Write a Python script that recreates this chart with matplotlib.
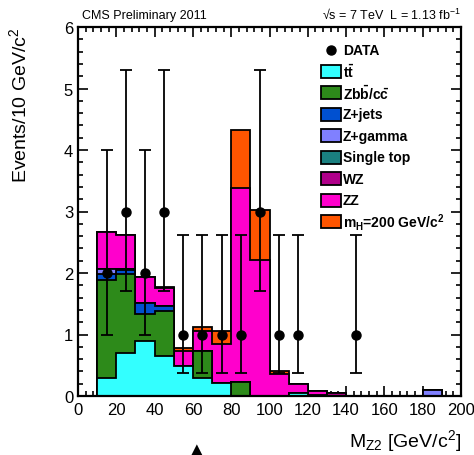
import matplotlib
matplotlib.use("Agg")
import matplotlib.pyplot as plt
import numpy as np
from matplotlib.patches import Rectangle

plt.rcParams['font.family'] = ['Liberation Sans', 'DejaVu Sans']
plt.rcParams['mathtext.fontset'] = 'custom'
plt.rcParams['mathtext.rm'] = 'Liberation Sans'
plt.rcParams['mathtext.it'] = 'Liberation Sans:italic'
plt.rcParams['mathtext.bf'] = 'Liberation Sans:bold'

# 10 GeV bins, 0-200
edges = np.arange(0, 201, 10)

ttbar    = [0, 0.29, 0.70, 0.89, 0.65, 0.48, 0.29, 0.21, 0, 0, 0, 0.05, 0, 0, 0, 0, 0, 0, 0, 0]
zbb      = [0, 1.59, 1.28, 0.44, 0.73, 0, 0.44, 0, 0.22, 0, 0, 0, 0, 0, 0, 0, 0, 0, 0, 0]
zjets    = [0, 0.11, 0.07, 0.19, 0.09, 0, 0, 0, 0, 0, 0, 0, 0, 0, 0, 0, 0, 0, 0, 0]
zgamma   = [0, 0.07, 0.01, 0, 0, 0, 0, 0, 0, 0, 0, 0, 0, 0, 0, 0, 0, 0, 0.09, 0]
singletop = [0, 0, 0, 0, 0, 0, 0, 0, 0, 0, 0, 0, 0, 0, 0, 0, 0, 0, 0, 0]
wz       = [0, 0, 0, 0, 0, 0, 0, 0, 0, 0, 0, 0, 0.02, 0.05, 0, 0, 0, 0, 0, 0]
zz       = [0, 0.60, 0.56, 0.41, 0.28, 0.25, 0.32, 0.63, 3.16, 2.21, 0.36, 0.15, 0.06, 0, 0, 0, 0, 0, 0, 0]
higgs    = [0, 0, 0, 0, 0.02, 0.05, 0.07, 0.21, 0.95, 0.81, 0.05, 0, 0, 0, 0, 0, 0, 0, 0, 0]

layers = [ttbar, zbb, zjets, zgamma, singletop, wz, zz, higgs]
labels = [r'$\mathbf{t\bar{t}}$', r'$\mathbf{Zb\bar{b}/c\bar{c}}$', 'Z+jets', 'Z+gamma',
          'Single top', 'WZ', 'ZZ', r'$\mathbf{m_H}$=200 GeV/c$^\mathbf{2}$']
colors = ['#33ffff', '#2d8a1a', '#0050d0', '#8080ff', '#1a8080', '#b0008a', '#ff00cc', '#ff5500']

# observed events
data_x  = [15, 25, 35, 45, 55, 65, 75, 85, 95, 105, 115, 145]
data_y  = [2, 3, 2, 3, 1, 1, 1, 1, 3, 1, 1, 1]
data_lo = [1.0, 1.70, 1.0, 1.70, 0.37, 0.37, 0.37, 0.37, 1.70, 0.37, 0.37, 0.37]
data_hi = [4.0, 5.30, 4.0, 5.30, 2.62, 2.62, 2.62, 2.62, 5.30, 2.62, 2.62, 2.62]

fig = plt.figure(figsize=(4.74, 4.56), dpi=100)
ax = fig.add_axes([78/474, 1 - 397/456, 383/474, 369/456])

cum = np.cumsum(np.array(layers), axis=0)
for i in range(len(layers) - 1, -1, -1):
    ax.stairs(cum[i], edges, baseline=0, fill=True, facecolor=colors[i],
              edgecolor='black', linewidth=1.3, zorder=2 + (len(layers) - i) * 0.01)

yerr = [np.array(data_y) - np.array(data_lo), np.array(data_hi) - np.array(data_y)]
ax.errorbar(data_x, data_y, yerr=yerr, fmt='o', color='black', markersize=6.5,
            elinewidth=1.3, capsize=4, capthick=1.3, zorder=5)

ax.set_xlim(0, 200)
ax.set_ylim(0, 6)
ax.set_xticks(np.arange(0, 201, 20))
ax.set_xticks(np.arange(0, 201, 4), minor=True)
ax.set_yticks(np.arange(0, 7, 1))
ax.set_yticks(np.arange(0, 6.01, 0.2), minor=True)
ax.tick_params(which='both', direction='in', top=True, right=True, width=1.2, labelsize=12)
ax.tick_params(which='major', length=7)
ax.tick_params(which='minor', length=3.5)
ax.tick_params(axis='x', pad=4)
for s in ax.spines.values():
    s.set_linewidth(1.6)

ax.set_ylabel('Events/10 GeV/c$^2$', fontsize=14, loc='top')
ax.yaxis.set_label_coords(-0.125, 1.0)
ax.set_xlabel(r'M$_{\rm Z2}$ [GeV/c$^2$]', fontsize=14, loc='right')
ax.xaxis.set_label_coords(1.0, -0.085)

ax.text(0.01, 1.015, 'CMS Preliminary 2011', transform=ax.transAxes, fontsize=9, va='bottom')
ax.text(1.0, 1.015, '√s = 7 TeV  L = 1.13 fb$^{-1}$', transform=ax.transAxes,
        fontsize=9, va='bottom', ha='right')

# legend
row0, step = (397 - 50.7) / 369, 21.5 / 369
bx, bw, bh = (321 - 78) / 383, 20 / 383, 13 / 369
tx = (343 - 78) / 383
ax.plot([bx + bw / 2], [row0], 'o', color='black', markersize=6.5, transform=ax.transAxes,
        clip_on=False, zorder=6)
ax.text(tx, row0, 'DATA', transform=ax.transAxes, fontsize=10, fontweight='bold', va='center')
for k, (lab, c) in enumerate(zip(labels, colors)):
    yy = row0 - (k + 1) * step
    ax.add_patch(Rectangle((bx, yy - bh / 2), bw, bh, transform=ax.transAxes,
                           facecolor=c, edgecolor='black', linewidth=1.3, zorder=6))
    ax.text(tx, yy, lab, transform=ax.transAxes, fontsize=10, fontweight='bold', va='center')

fig.text(197 / 474, 1 - 450 / 456, '▲', fontsize=11, ha='center', va='center',
         family=['DejaVu Sans'])

fig.savefig('out.png', dpi=100)
